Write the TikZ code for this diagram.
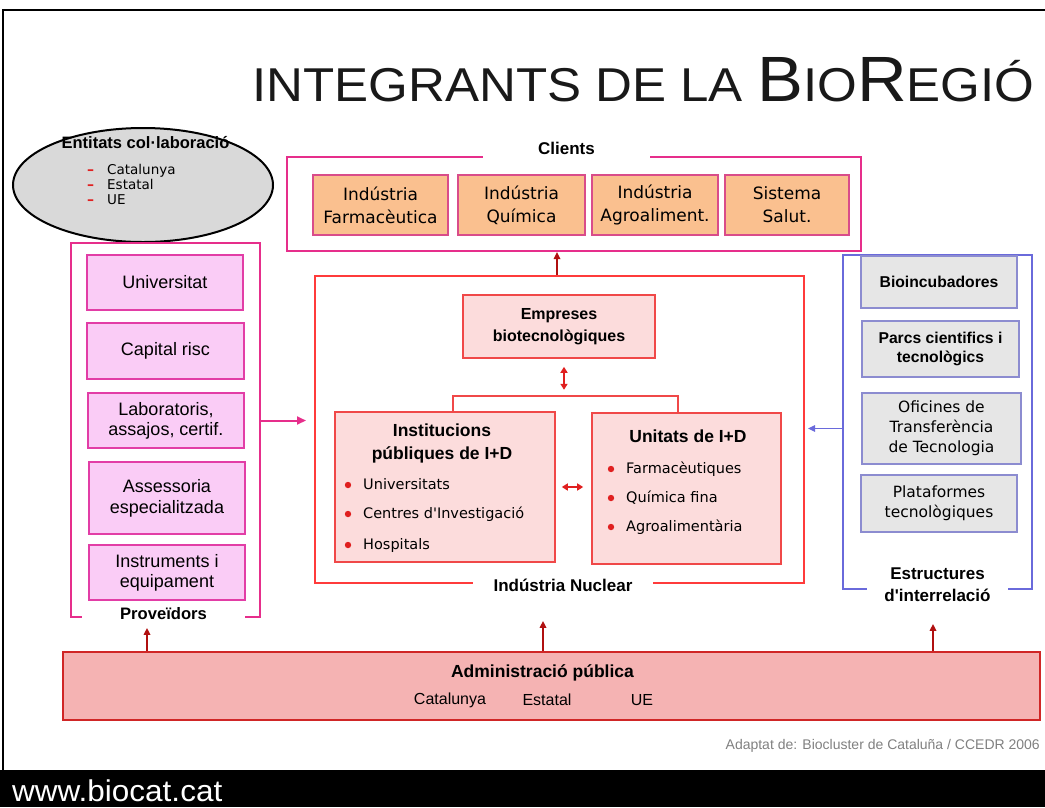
\documentclass[tikz,border=0pt]{standalone}
\usepackage{fontspec}
\setmainfont{Liberation Sans}
\newfontfamily\widefont{DejaVu Sans}
\usetikzlibrary{arrows.meta,calc,shapes.geometric}

\definecolor{pinkline}{HTML}{E62E8B}
\definecolor{clientfill}{HTML}{FAC08F}
\definecolor{clientedge}{HTML}{D94C8A}
\definecolor{provfill}{HTML}{FACCF6}
\definecolor{provedge}{HTML}{E23DA6}
\definecolor{corered}{HTML}{FF3B3B}
\definecolor{corefill}{HTML}{FCDCDC}
\definecolor{coreedge}{HTML}{F04848}
\definecolor{linkblue}{HTML}{6A6ADB}
\definecolor{linkfill}{HTML}{E6E6E6}
\definecolor{linkedge}{HTML}{8C8CD0}
\definecolor{adminfill}{HTML}{F5B3B3}
\definecolor{adminedge}{HTML}{D02626}
\definecolor{arrowred}{HTML}{B01010}
\definecolor{dotred}{HTML}{E02020}
\definecolor{ovalgray}{HTML}{D9D9D9}
\definecolor{notegray}{HTML}{808080}

\tikzset{
	pinkframe/.style={draw=pinkline, line width=2pt, inner sep=0pt},
	coreframe/.style={draw=corered, line width=2pt, inner sep=0pt},
	blueframe/.style={draw=linkblue, line width=2pt, inner sep=0pt},
	framelabel/.style={fill=white, inner sep=0pt, align=center, font=\bfseries\fontsize{17}{22}\selectfont},
	clientbox/.style={draw=clientedge, fill=clientfill, line width=1.6pt, inner sep=0pt, align=center, minimum height=60pt, font=\widefont\fontsize{17}{23}\selectfont},
	provbox/.style={draw=provedge, fill=provfill, line width=1.4pt, inner sep=0pt, align=center, minimum width=156pt, font=\fontsize{18}{20}\selectfont},
	corebox/.style={draw=coreedge, fill=corefill, line width=1.6pt, inner sep=0pt, align=center},
	linkbox/.style={draw=linkedge, fill=linkfill, line width=1.6pt, inner sep=0pt, align=center, font=\widefont\fontsize{15.5}{20}\selectfont},
	boldtext/.style={inner sep=0pt, align=center, font=\bfseries\fontsize{17.5}{23}\selectfont},
	itemtext/.style={anchor=west, inner sep=0pt, text height=11pt, text depth=3pt, font=\widefont\fontsize{14.5}{18}\selectfont},
	smalltext/.style={anchor=west, inner sep=0pt, text height=9pt, text depth=3pt, font=\widefont\fontsize{13.5}{16}\selectfont},
	uparrow/.style={draw=arrowred, line width=1.6pt, -{Triangle[length=7pt,width=6.5pt]}},
	twoarrow/.style={draw=dotred, line width=1.6pt, {Triangle[length=6pt,width=7pt]}-{Triangle[length=6pt,width=7pt]}},
}

\begin{document}
\begin{tikzpicture}[x=1pt,y=-1pt]
			%%%%% START %%%%%
			\useasboundingbox (0,0) rectangle (1045,807);
			
			\draw[line width=2.5pt] (3,770) -- (3,10) -- (1045,10);
			\fill[black] (0,770) rectangle (1045,807);
			
			\node[anchor=base west, inner sep=0pt, text=black!90] (title) at (252,101) {\scalebox{1.075}[1]{\fontsize{47.5}{50}\selectfont INTEGRANTS DE LA {\fontsize{64}{66}\selectfont B}IO{\fontsize{64}{66}\selectfont R}EGIÓ}};
			
			% entitats
			\node[ellipse, draw, line width=2pt, fill=ovalgray, minimum width=260pt, minimum height=114pt] (entitats) at (143,185) {};
			\node[inner sep=0pt, font=\bfseries\fontsize{16.5}{20}\selectfont] (enttitle) at (145.5,143) {Entitats col·laboració};
			\foreach \t/\y/\n in {Catalunya/171/ecat, Estatal/186/eest, UE/201/eue}{
				\node[smalltext, text=dotred, font=\widefont\bfseries\fontsize{14}{14}\selectfont] (\n d) at (87,\y) {–};
				\node[smalltext] (\n) at (107,\y) {\t};
			}
			
			% frames
			\node[pinkframe, minimum width=574pt, minimum height=94pt] (clients) at (574,204) {};
			\node[pinkframe, minimum width=189pt, minimum height=374pt] (prov) at (165.5,430) {};
			\node[coreframe, minimum width=489pt, minimum height=307pt] (nuclear) at (559.5,429.5) {};
			\node[blueframe, minimum width=189pt, minimum height=334pt] (estr) at (937.5,422) {};
			
			\node[framelabel, minimum width=167pt, minimum height=20pt] (clientslbl) at (566.5,148) {Clients};
			\node[framelabel, minimum width=163pt, font=\bfseries\fontsize{16.6}{20}\selectfont] (provlbl) at (163.5,614) {Proveïdors};
			\node[framelabel, minimum width=180pt, minimum height=16pt] (nuclbl) at (563,585) {Indústria Nuclear};
			\node[framelabel, minimum width=141pt] (estrlbl) at (937.5,585) {Estructures\\d\textquotesingle interrelació};
			
			% clients
			\node[clientbox, minimum width=135pt] (farma) at (380.5,205) {Indústria\\Farmacèutica};
			\node[clientbox, minimum width=127pt] (quim) at (521.5,205) {Indústria\\Química};
			\node[clientbox, minimum width=126pt] (agro) at (655,205) {Indústria\\Agroaliment.};
			\node[clientbox, minimum width=124pt] (salut) at (787,205) {Sistema\\Salut.};
			
			% proveidors
			\node[provbox, minimum height=55pt] (univ) at (165,282.5) {Universitat};
			\node[provbox, minimum width=157pt, minimum height=56pt] (capital) at (165.5,351) {Capital risc};
			\node[provbox, minimum height=55pt] (labs) at (166,420.5) {Laboratoris,\\assajos, certif.};
			\node[provbox, minimum height=72pt, font=\fontsize{18}{21}\selectfont] (assess) at (167,498) {Assessoria\\especialitzada};
			\node[provbox, minimum height=55pt] (instr) at (167,572.5) {Instruments i\\equipament};
			
			% industria nuclear
			\node[corebox, minimum width=192pt, minimum height=63pt, font=\bfseries\fontsize{16}{22}\selectfont] (emp) at (559,326.5) {Empreses\\biotecnològiques};
			\node[corebox, minimum width=220pt, minimum height=150pt] (inst) at (445,487) {};
			\node[corebox, minimum width=189pt, minimum height=151pt] (unit) at (686.5,488.5) {};
			\node[boldtext] (insttitle) at (442,443.5) {Institucions\\públiques de I+D};
			\node[boldtext] (unittitle) at (688,436) {Unitats de I+D};
			\foreach \t/\y/\n in {Universitats/485/iuni, Centres d'Investigació/514/icen, Hospitals/545/ihos}{
				\fill[dotred] (348,\y) circle (3.2pt);
				\node[itemtext] (\n) at (363,\y) {\t};
			}
			\foreach \t/\y/\n in {Farmacèutiques/469/ufar, Química fina/498/uqui, Agroalimentària/527/uagr}{
				\fill[dotred] (611,\y) circle (3.2pt);
				\node[itemtext] (\n) at (626,\y) {\t};
			}
			
			% estructures
			\node[linkbox, minimum width=156pt, minimum height=52pt, font=\bfseries\fontsize{15.7}{19}\selectfont] (bioinc) at (939,282) {Bioincubadores};
			\node[linkbox, minimum width=157pt, minimum height=56pt, font=\bfseries\fontsize{15.7}{19}\selectfont] (parcs) at (940.5,349) {Parcs cientifics i\\tecnològics};
			\node[linkbox, minimum width=159pt, minimum height=71pt] (ofic) at (941.5,428.5) {Oficines de\\Transferència\\de Tecnologia};
			\node[linkbox, minimum width=156pt, minimum height=57pt] (plat) at (939,503.5) {Plataformes\\tecnològiques};
			
			% administracio
			\node[draw=adminedge, fill=adminfill, line width=2.2pt, minimum width=977pt, minimum height=68pt] (admin) at (551.5,686) {};
			\node[inner sep=0pt, font=\bfseries\fontsize{17.5}{20}\selectfont] (admtitle) at (542.5,673) {Administració pública};
			\node[inner sep=0pt, font=\fontsize{16}{18}\selectfont] (acat) at (450,700) {Catalunya};
			\node[inner sep=0pt, font=\fontsize{16}{18}\selectfont] (aest) at (547,700) {Estatal};
			\node[inner sep=0pt, font=\fontsize{16}{18}\selectfont] (aue) at (642,700) {UE};
			
			% arrows
			\draw[uparrow] ($(nuclear.north)+(-2.5,0)$) -- ($(nuclear.north |- clients.south)+(-2.5,0)$);
			\draw[uparrow, draw=pinkline, line width=2pt, -{Triangle[length=9pt,width=8pt]}, shorten >=8pt] (prov.east |- labs) -- (nuclear.west |- labs);
			\draw[uparrow, draw=linkblue, line width=1.2pt, shorten >=3pt] (estr.west |- ofic) -- (nuclear.east |- ofic);
			\draw[twoarrow] ($(emp.south)+(5,8)$) -- ++(0,23);
			\draw[twoarrow, shorten <=6pt, shorten >=8pt] (inst.east) -- (inst.east -| unit.west);
			\draw[draw=coreedge, line width=1.6pt] ($(inst.north)+(8,0)$) -- ++(0,-15) -| ($(unit.north)+(-8.5,0)$);
			
			\draw[uparrow] ($(admin.north -| prov.south)+(-18.5,0)$) -- ++(0,-23);
			\draw[uparrow] ($(admin.north -| nuclear.south)+(-16.5,0)$) -- ++(0,-30);
			\draw[uparrow] ($(admin.north -| estr.south)+(-4.5,0)$) -- ++(0,-27);
			
			\node[anchor=base east, inner sep=0pt, text=notegray, font=\fontsize{14}{16}\selectfont] (source) at (1040,749) {Adaptat de: Biocluster de Cataluña / CCEDR 2006};
			\node[anchor=base west, inner sep=0pt, text=white, font=\fontsize{30}{32}\selectfont] (web) at (12,801) {\scalebox{1.05}[1]{www.biocat.cat}};
			
			%%%%% END %%%%%
\end{tikzpicture}
\end{document}
